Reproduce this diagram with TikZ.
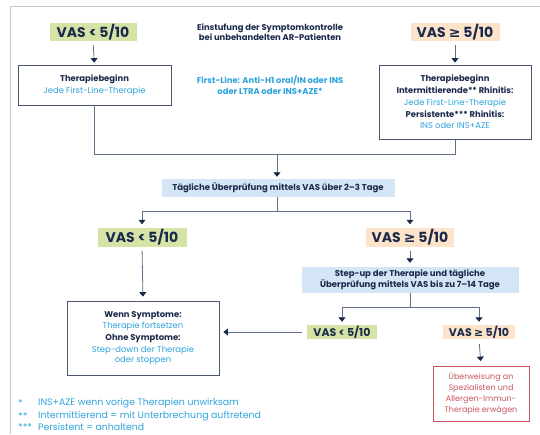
\documentclass[tikz,border=0pt]{standalone}
\usepackage{fontspec}
\setmainfont{Poppins}
\newfontfamily\symfont{DejaVu Sans}
\usetikzlibrary{arrows.meta}
\definecolor{navy}{HTML}{1B2A4A}
\definecolor{cyanblue}{HTML}{2EA3DB}
\definecolor{flowline}{HTML}{5F6F88}
\definecolor{boxline}{HTML}{4A5670}
\definecolor{vasgreen}{HTML}{D5E4A6}
\definecolor{vasorange}{HTML}{FCE3CA}
\definecolor{checkblue}{HTML}{D4E6F6}
\definecolor{referred}{HTML}{C9555E}
\definecolor{framegray}{HTML}{C8C8C8}
\newcommand{\geqsym}{{\symfont\bfseries ≥}}
\newcommand{\hl}[1]{\textcolor{cyanblue}{#1}}

\begin{document}
\begin{tikzpicture}[x=1pt,y=-1pt,
  vas/.style={font=\fontsize{14}{16}\selectfont\bfseries, text=navy, inner sep=0pt, minimum height=18pt},
  vassmall/.style={font=\fontsize{11}{12}\selectfont\bfseries, text=navy, inner sep=0pt, minimum height=14pt},
  infobox/.style={draw=boxline, line width=0.8pt, fill=white, align=center, inner sep=0pt,
    text=navy, font=\fontsize{8.4}{11.7}\selectfont},
  checkbox/.style={fill=checkblue, align=center, inner sep=0pt, text=navy,
    font=\fontsize{8.5}{11}\selectfont\bfseries},
  flow/.style={draw=flowline, line width=0.8pt, shorten >=2pt,
    -{Triangle[width=7pt,length=4.5pt,color=navy]}},
  link/.style={draw=flowline, line width=0.8pt}]
\useasboundingbox (0,0) rectangle (540,434);
\draw[framegray, line width=1pt] (10,434) -- (10,6) -- (540,6);

% top row
\node[vas, fill=vasgreen, minimum width=87pt] (vas1) at (93,32) {VAS < 5/10};
\node[vas, fill=vasorange, minimum width=89pt] (vas2) at (455,32) {VAS \geqsym\ 5/10};
\node[align=center, text=navy, font=\fontsize{8.4}{10.5}\selectfont\bfseries] (title) at (270,32)
  {Einstufung der Symptomkontrolle\\bei unbehandelten AR-Patienten};
\node[align=center, text=cyanblue, font=\fontsize{8.4}{11}\selectfont\bfseries] (firstline) at (270,85)
  {First-Line: Anti-H1 oral/IN oder INS\\oder LTRA oder INS+AZE*};

\node[infobox, minimum width=153pt, minimum height=40pt] (start1) at (94.5,85)
  {\textbf{Therapiebeginn}\\\hl{Jede First-Line-Therapie}};
\node[infobox, minimum width=152pt, minimum height=74pt] (start2) at (455,102)
  {\textbf{Therapiebeginn}\\\textbf{Intermittierende** Rhinitis:}\\\hl{Jede First-Line-Therapie}\\
   \textbf{Persistente*** Rhinitis:}\\\hl{INS oder INS+AZE}};

\draw[flow, shorten <=4pt] (vas1.south) -- (start1.north);
\draw[flow, shorten <=4pt] (vas2.south) -- (start2.north);

% daily check
\coordinate (merge) at (277,154);
\node[checkbox, minimum width=233pt, minimum height=18pt] (check) at (278,188)
  {Tägliche Überprüfung mittels VAS über 2–3 Tage};
\draw[link] (start1.south) |- (merge);
\draw[link] (start2.south) |- (merge);
\draw[flow] (merge) -- (merge |- check.north);

\node[vas, fill=vasgreen, minimum width=89pt, minimum height=19pt] (vas3) at (142,237) {VAS < 5/10};
\node[vas, fill=vasorange, minimum width=88pt, minimum height=19pt] (vas4) at (410,237) {VAS \geqsym\ 5/10};
\coordinate (split1) at (277,211);
\draw[link] (merge |- check.south) -- (split1);
\draw[flow, shorten >=3pt] (split1) -| (vas3.north);
\draw[flow, shorten >=3pt] (split1) -| (vas4.north);

% lower part
\node[infobox, minimum width=152pt, minimum height=74pt] (keep) at (143,338)
  {\textbf{Wenn Symptome:}\\\hl{Therapie fortsetzen}\\\textbf{Ohne Symptome:}\\
   \hl{Step-down der Therapie}\\[-1pt]\hl{oder stoppen}};
\draw[flow, shorten <=4pt, shorten >=4pt] (vas3.south) -- (keep.north);

\node[checkbox, minimum width=217pt, minimum height=26pt] (stepup) at (410,280)
  {Step-up der Therapie und tägliche\\Überprüfung mittels VAS bis zu 7–14 Tage};
\draw[flow, shorten <=4pt, shorten >=4pt] (vas4.south) -- (stepup.north);

\node[vassmall, fill=vasgreen, minimum width=70pt] (vas5) at (342,332) {VAS < 5/10};
\node[vassmall, fill=vasorange, minimum width=72pt] (vas6) at (479,332) {VAS \geqsym\ 5/10};
\coordinate (split2) at (410,307);
\draw[link] (stepup.south) -- (split2);
\draw[flow, shorten >=3pt] (split2) -| (vas5.north);
\draw[flow, shorten >=3pt] (split2) -| (vas6.north);
\draw[flow, shorten <=5pt, shorten >=4pt] (vas5.west) -- (keep.east |- vas5.west);

\node[draw=referred, line width=0.8pt, fill=white, text=referred, align=center, inner sep=0pt,
  minimum width=96pt, minimum height=55pt, font=\fontsize{8}{11}\selectfont] (refer) at (481,394)
  {Überweisung an\\Spezialisten und\\Allergen-Immun-\\Therapie erwägen};
\draw[flow, shorten <=5pt, shorten >=5pt] (vas6.south) -- (refer.north);

% footnotes
\begin{scope}[every node/.style={anchor=west, text=cyanblue, inner sep=0pt, font=\fontsize{9.4}{10}\selectfont}]
\node (fn1star) at (18,403) {*};
\node (fn1) at (38,403) {INS+AZE wenn vorige Therapien unwirksam};
\node (fn2star) at (18,416) {**};
\node (fn2) at (38,416) {Intermittierend = mit Unterbrechung auftretend};
\node (fn3star) at (18,427) {***};
\node (fn3) at (38,427) {Persistent = anhaltend};
\end{scope}
\end{tikzpicture}
\end{document}
